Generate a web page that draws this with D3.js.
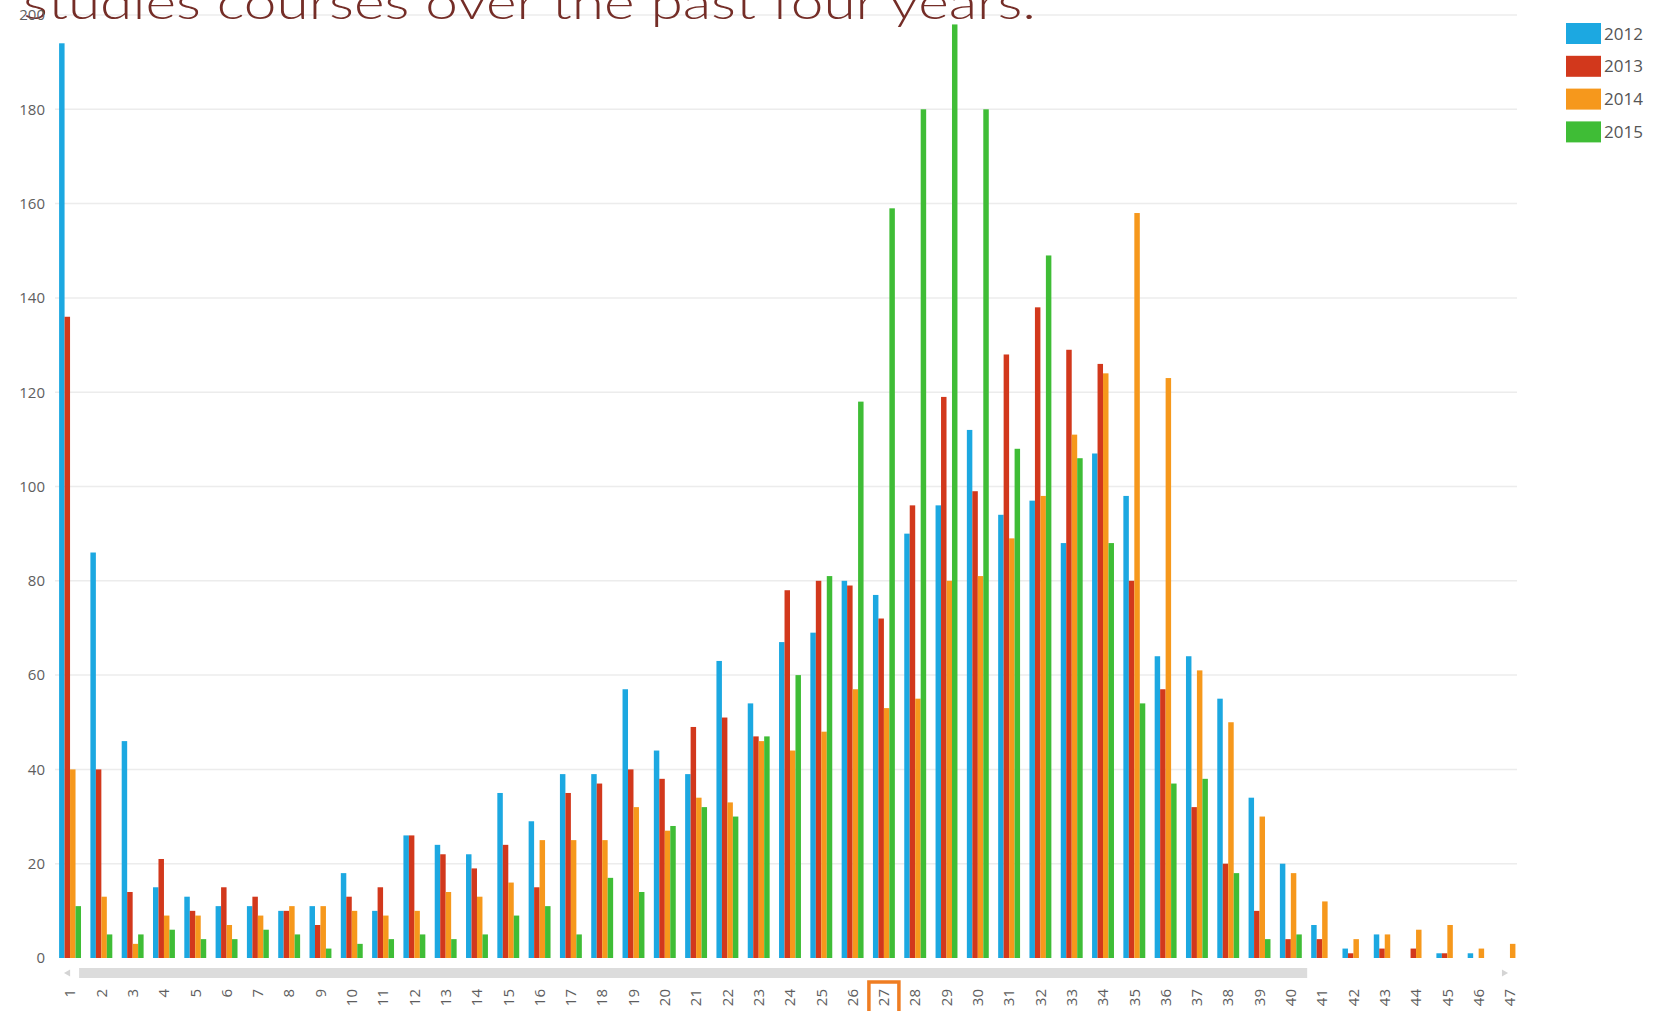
<!DOCTYPE html>
<html>
<head>
<meta charset="utf-8">
<script src="https://cdn.jsdelivr.net/npm/d3@7"></script>
<style>
    body { margin: 0; background: #ffffff; }
    svg { display: block; }
</style>
</head>
<body>
<div id="chartArea"></div>
<script>

// ---- data ----
var categories = d3.range(1, 48).map(String); // 1 .. 47
var years = ["2012", "2013", "2014", "2015"];
var yearColours = ["#1ca8e1", "#d2381c", "#f6981c", "#3fbd36"];

var values2012 = [194, 86, 46, 15, 13, 11, 11, 10, 11, 18, 10, 26, 24, 22, 35, 29, 39, 39, 57, 44, 39, 63, 54, 67, 69, 80, 77, 90, 96, 112, 94, 97, 88, 107, 98, 64, 64, 55, 34, 20, 7, 2, 5, 0, 1, 1, 0];
var values2013 = [136, 40, 14, 21, 10, 15, 13, 10, 7, 13, 15, 26, 22, 19, 24, 15, 35, 37, 40, 38, 49, 51, 47, 78, 80, 79, 72, 96, 119, 99, 128, 138, 129, 126, 80, 57, 32, 20, 10, 4, 4, 1, 2, 2, 1, 0, 0];
var values2014 = [40, 13, 3, 9, 9, 7, 9, 11, 11, 10, 9, 10, 14, 13, 16, 25, 25, 25, 32, 27, 34, 33, 46, 44, 48, 57, 53, 55, 80, 81, 89, 98, 111, 124, 158, 123, 61, 50, 30, 18, 12, 4, 5, 6, 7, 2, 3];
var values2015 = [11, 5, 5, 6, 4, 4, 6, 5, 2, 3, 4, 5, 4, 5, 9, 11, 5, 17, 14, 28, 32, 30, 47, 60, 81, 118, 159, 180, 198, 180, 108, 149, 106, 88, 54, 37, 38, 18, 4, 5, 0, 0, 0, 0, 0, 0, 0];

var yTicks = [0, 20, 40, 60, 80, 100, 120, 140, 160, 180, 200];
var highlightCategory = "27"; // the boxed label under the axis
var titleText = "studies courses over the past four years.";

var seriesValues = [values2012, values2013, values2014, values2015];

// ---- layout ----
var width = 1663, height = 1011;
var plotLeft = 54.4, plotRight = 1525.6;   // outer edges of the category bands
var plotTop = 15, plotBottom = 958;
var gridLeft = 55, gridRight = 1517;

var svg = d3.select("#chartArea")
    .append("svg")
    .attr("width", width)
    .attr("height", height);

svg.append("rect").attr("width", width).attr("height", height).attr("fill", "#ffffff");

var x = d3.scaleBand()
    .domain(categories)
    .range([plotLeft, plotRight])
    .paddingInner(0.3)
    .paddingOuter(0.15);

var xYear = d3.scaleBand()
    .domain(years)
    .range([0, x.bandwidth()]);

var y = d3.scaleLinear()
    .domain([0, 200])
    .range([plotBottom, plotTop]);

var colour = d3.scaleOrdinal().domain(years).range(yearColours);

// gridlines
svg.append("g")
    .selectAll("line")
    .data(yTicks.filter(function (d) { return d > 0; }))
    .enter()
    .append("line")
    .attr("x1", gridLeft)
    .attr("x2", gridRight)
    .attr("y1", function (d) { return y(d); })
    .attr("y2", function (d) { return y(d); })
    .attr("stroke", "#ececec")
    .attr("stroke-width", 1.5);

// title - only the lower half shows, the slide cuts it off at the top
svg.append("text")
    .attr("x", 23)
    .attr("y", 19)
    .attr("textLength", 1013)
    .attr("lengthAdjust", "spacingAndGlyphs")
    .attr("font-family", "'Century Gothic', 'URW Gothic', Lato, sans-serif")
    .attr("font-size", 46)
    .attr("font-weight", 300)
    .attr("fill", "#742d27")
    .text(titleText);

// y axis
var yAxis = svg.append("g")
    .attr("transform", "translate(48,0)")
    .call(d3.axisLeft(y).tickValues(yTicks).tickSize(0).tickPadding(3));
yAxis.select(".domain").remove();
yAxis.selectAll("text")
    .attr("font-family", "'Open Sans', sans-serif")
    .attr("font-size", 15)
    .attr("fill", "#5e5e5e");

// bars, one group per category
var rows = categories.map(function (c, i) {
    return {
        category: c,
        values: years.map(function (yr, j) { return { year: yr, value: seriesValues[j][i] }; })
    };
});

var groups = svg.append("g")
    .selectAll("g")
    .data(rows)
    .enter()
    .append("g")
    .attr("transform", function (d) { return "translate(" + x(d.category) + ",0)"; });

groups.selectAll("rect")
    .data(function (d) { return d.values; })
    .enter()
    .append("rect")
    .attr("x", function (d) { return xYear(d.year); })
    .attr("y", function (d) { return y(d.value); })
    .attr("width", xYear.bandwidth())
    .attr("height", function (d) { return y(0) - y(d.value); })
    .attr("fill", function (d) { return colour(d.year); });

// scroll bar under the plot (chart widget chrome)
var scrollY = 968;
svg.append("rect")
    .attr("x", x("1") + 20)
    .attr("y", scrollY)
    .attr("width", x("41") - x("1") - 24)
    .attr("height", 10)
    .attr("fill", "#dcdcdc");
svg.append("path")
    .attr("d", d3.symbol().type(d3.symbolTriangle).size(22))
    .attr("transform", "translate(" + (x("1") + 9) + "," + (scrollY + 5) + ") rotate(-90)")
    .attr("fill", "#d4d4d4");
svg.append("path")
    .attr("d", d3.symbol().type(d3.symbolTriangle).size(22))
    .attr("transform", "translate(" + (x("47") + 5) + "," + (scrollY + 5) + ") rotate(90)")
    .attr("fill", "#d4d4d4");

// x axis, labels turned on their side
var xAxis = svg.append("g")
    .attr("transform", "translate(0,985)")
    .call(d3.axisBottom(x).tickSize(0));
xAxis.select(".domain").remove();
xAxis.selectAll("text")
    .attr("y", 0)
    .attr("x", -4)
    .attr("dy", "0.35em")
    .attr("transform", "rotate(-90)")
    .style("text-anchor", "end")
    .attr("font-family", "'Open Sans', sans-serif")
    .attr("font-size", 15)
    .attr("fill", "#5e5e5e");

// orange box round the selected category label
svg.append("rect")
    .attr("x", x(highlightCategory) + x.bandwidth() / 2 - 15)
    .attr("y", 982)
    .attr("width", 30)
    .attr("height", 40)
    .attr("fill", "none")
    .attr("stroke", "#ef7d22")
    .attr("stroke-width", 3.5);

// legend
var legend = svg.append("g")
    .attr("transform", "translate(1566,23)");
var legendItem = legend.selectAll("g")
    .data(years)
    .enter()
    .append("g")
    .attr("transform", function (d, i) { return "translate(0," + (i * 32.8) + ")"; });
legendItem.append("rect")
    .attr("width", 35)
    .attr("height", 21)
    .attr("fill", function (d) { return colour(d); });
legendItem.append("text")
    .attr("x", 38)
    .attr("y", 16.5)
    .attr("font-family", "'Open Sans', sans-serif")
    .attr("font-size", 17)
    .attr("fill", "#555")
    .text(function (d) { return d; });

console.log("chart rendered");
</script>
</body>
</html>
